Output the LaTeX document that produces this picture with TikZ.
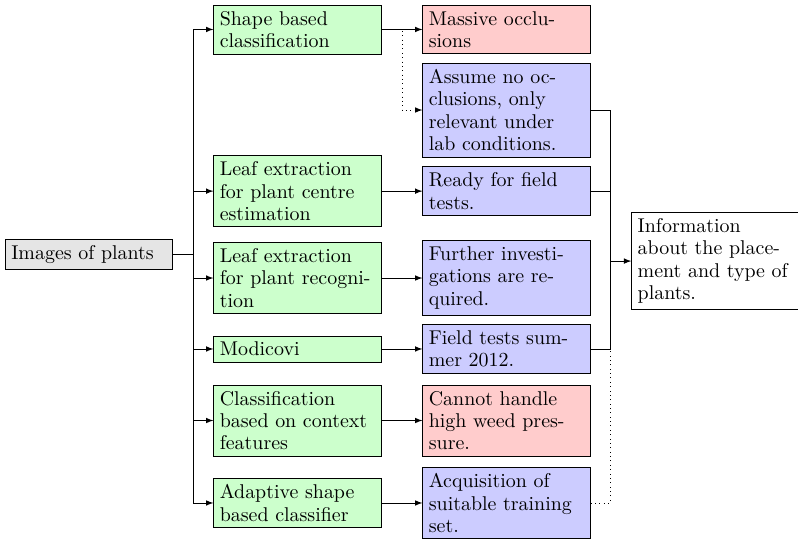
\documentclass[tikz,border=0pt]{standalone}
\usepackage{tikz}
\usetikzlibrary{arrows}

\begin{document}
\begin{tikzpicture}[
  box/.style={draw=black, rectangle, font=\fontsize{10.95}{12.3}\selectfont,
    text width=3cm, align=left},
  imgbox/.style={box, fill=gray!20},
  greenbox/.style={box, fill=green!20},
  bluebox/.style={box, fill=blue!20},
  redbox/.style={box, fill=red!20},
  infobox/.style={box, fill=white}]
\useasboundingbox (0,0) rectangle (15.405,-10.405);
% input
\node [imgbox] (img) at (1.718,-4.913) {Images of plants};
% methods
\node [greenbox] (shape) at (5.743,-0.569) {Shape based\\classification};
\node [greenbox] (centre) at (5.743,-3.69) {Leaf extraction\\for plant centre\\estimation};
\node [greenbox] (recog) at (5.743,-5.367) {Leaf extraction\\for plant recogni-\\tion};
\node [greenbox] (modicovi) at (5.743,-6.737) {Modicovi};
\node [greenbox] (context) at (5.743,-8.118) {Classification\\based on context\\features};
\node [greenbox] (adaptive) at (5.743,-9.71) {Adaptive shape\\based classifier};
% results
\node [redbox] (massive) at (9.778,-0.569) {Massive occlu-\\sions};
\node [bluebox] (assume) at (9.778,-2.124) {Assume no oc-\\clusions, only\\relevant under\\lab conditions.};
\node [bluebox] (ready) at (9.778,-3.69) {Ready for field\\tests.};
\node [bluebox] (further) at (9.778,-5.367) {Further investi-\\gations are re-\\quired.};
\node [bluebox] (field) at (9.778,-6.737) {Field tests sum-\\mer 2012.};
\node [redbox] (cannot) at (9.778,-8.118) {Cannot handle\\high weed pres-\\sure.};
\node [bluebox] (acq) at (9.778,-9.71) {Acquisition of\\suitable training\\set.};
% output
\node [infobox] (info) at (13.81,-5.04) {Information\\about the place-\\ment and type of\\plants.};
\coordinate (j1) at (3.726,-4.913);
\coordinate (sj) at (7.76,-0.569);
\coordinate (j2) at (11.776,-5.04);
\draw (img.east) -- (j1);
\foreach \m in {shape,centre,recog,modicovi,context,adaptive}
  \draw [-latex] (j1) |- (\m.west);
\draw [-latex] (shape.east) -- (massive.west);
\draw [-latex] (centre.east) -- (ready.west);
\draw [-latex] (recog.east) -- (further.west);
\draw [-latex] (modicovi.east) -- (field.west);
\draw [-latex] (context.east) -- (cannot.west);
\draw [-latex] (adaptive.east) -- (acq.west);
\draw [dotted, -latex] (shape.east) -- (sj) |- (assume.west);
\draw (assume.east) -| (j2);
\draw (ready.east) -| (j2);
\draw (field.east) -| (j2);
\draw [dotted] (acq.east) -| (j2 |- field.east);
\draw [-latex] (j2) -- (info.west);
\end{tikzpicture}
\end{document}
